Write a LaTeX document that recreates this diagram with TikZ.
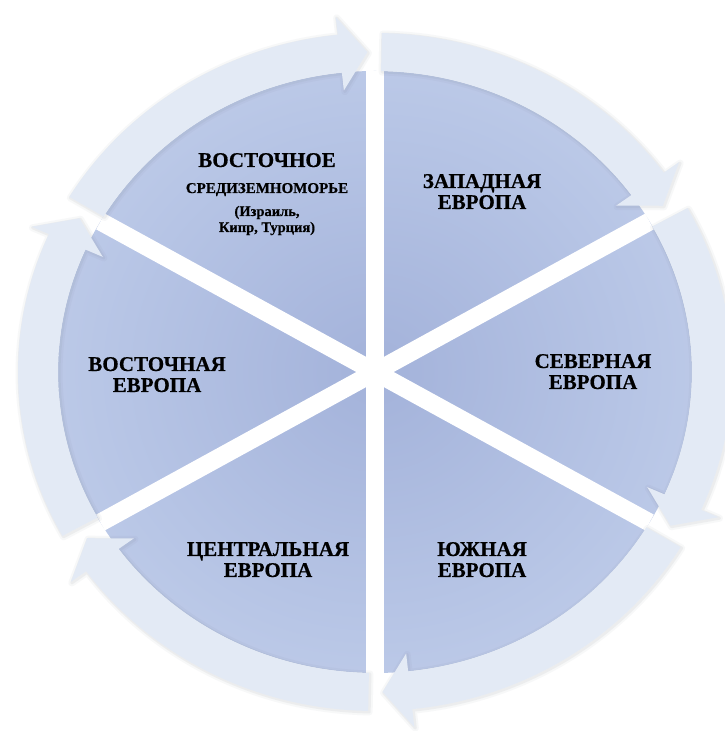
\documentclass[tikz,border=0pt]{standalone}
\usepackage{fontspec}
\setmainfont{Liberation Serif}[BoldFont={Liberation Serif Bold}]
\newfontfamily\tnr{Liberation Serif Bold}[FakeBold=0.5]
\definecolor{ringcol}{HTML}{E3EAF5}
\definecolor{piein}{HTML}{A3B2DA}
\definecolor{piemid}{HTML}{B8C6E6}
\definecolor{pieout}{HTML}{D5DFF1}
\definecolor{shadowcol}{HTML}{707885}
\pgfdeclareradialshading{pieshade}{\pgfpoint{0bp}{0bp}}{color(0bp)=(piein); color(22bp)=(piemid); color(50bp)=(pieout)}
\tikzset{
  bigtxt/.style={font=\tnr\fontsize{21}{21}\selectfont, anchor=base, inner sep=0pt},
  midtxt/.style={font=\tnr\fontsize{15}{15}\selectfont, anchor=base, inner sep=0pt},
  smalltxt/.style={font=\tnr\fontsize{14.5}{14.5}\selectfont, anchor=base, inner sep=0pt},
  ringarrow/.style={fill=ringcol,
    preaction={draw=shadowcol, draw opacity=0.05, line width=7pt, line join=round, transform canvas={shift={(1pt,-1pt)}}},
    preaction={draw=shadowcol, draw opacity=0.08, line width=3pt, line join=round, transform canvas={shift={(1pt,-1pt)}}}},
  gapline/.style={white, line width=18pt}
}
\begin{document}
\begin{tikzpicture}[x=1pt,y=1pt]
\useasboundingbox (0,0) rectangle (724,731);
\fill[white] (0,0) rectangle (724,731);
\begin{scope}[shift={(375,359)}, xscale=1.053]
  \shade[shading=pieshade] (0,0) circle (301);
  \foreach \a in {90,30,150} {
    \draw[gapline] (\a:301) -- (\a+180:301);
  }
  \foreach \A in {150,90,30,-30,-90,-150} {
    \path[ringarrow] (\A-1.1:301) arc[start angle=\A-1.1, end angle=\A-54, radius=301]
      -- (\A-54:283) -- (\A-58.7:320) -- (\A-54:357) -- (\A-54:339)
      arc[start angle=\A-54, end angle=\A-1.1, radius=339] -- cycle;
  }
\end{scope}
% labels
\node[bigtxt]   (vm1) at (267,564) {ВОСТОЧНОЕ};
\node[midtxt]   (vm2) at (267,538) {СРЕДИЗЕМНОМОРЬЕ};
\node[smalltxt] (vm3) at (267,515) {(Израиль,};
\node[smalltxt] (vm4) at (267,499) {Кипр, Турция)};
\node[bigtxt] (za1) at (482,543) {ЗАПАДНАЯ};
\node[bigtxt] (za2) at (482,522) {ЕВРОПА};
\node[bigtxt] (ve1) at (157,360) {ВОСТОЧНАЯ};
\node[bigtxt] (ve2) at (157,339) {ЕВРОПА};
\node[bigtxt] (se1) at (593,363) {СЕВЕРНАЯ};
\node[bigtxt] (se2) at (593,342) {ЕВРОПА};
\node[bigtxt] (ce1) at (268,175) {ЦЕНТРАЛЬНАЯ};
\node[bigtxt] (ce2) at (268,154) {ЕВРОПА};
\node[bigtxt] (yu1) at (482,175) {ЮЖНАЯ};
\node[bigtxt] (yu2) at (482,154) {ЕВРОПА};
\end{tikzpicture}
\end{document}
